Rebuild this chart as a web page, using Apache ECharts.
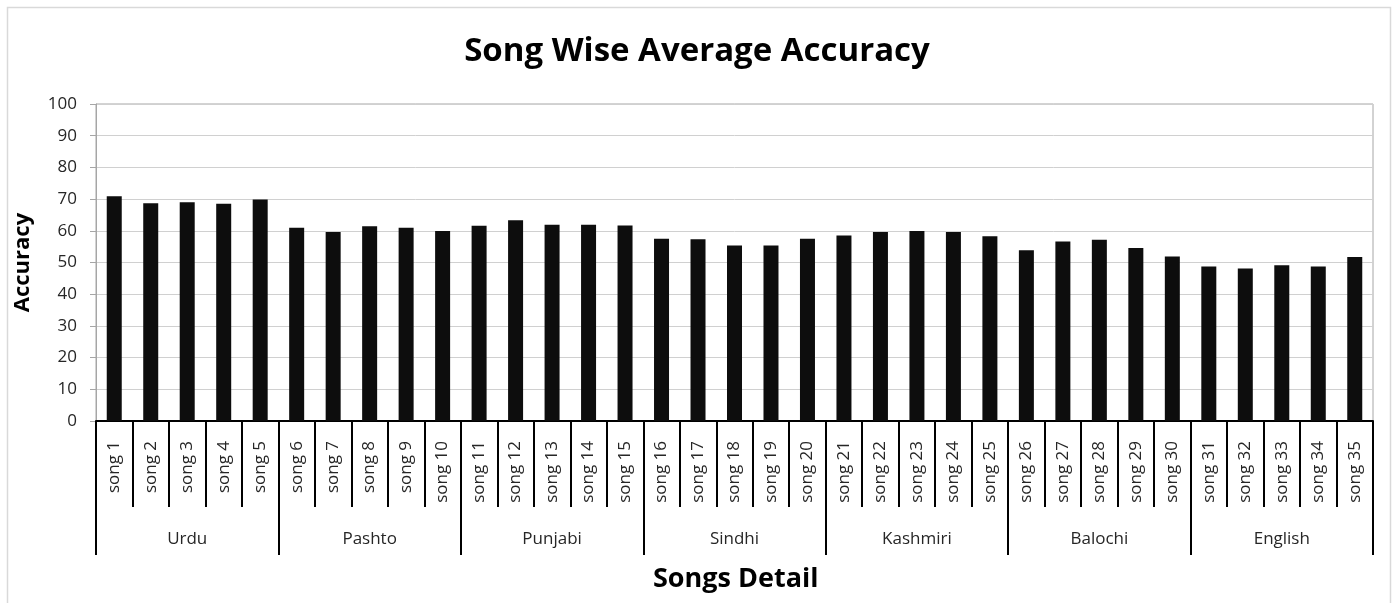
<!DOCTYPE html>
<html>
<head>
<meta charset="utf-8">
<script src="https://cdn.jsdelivr.net/npm/echarts@6/dist/echarts.min.js"></script>
<style>
  html, body { margin: 0; padding: 0; background: #fff; }
  #chart { width: 1394px; height: 603px; }
</style>
</head>
<body>
<div id="chart"></div>
<script>
// song names along the x axis
const songs = [];
for (let i = 1; i <= 35; i++) songs.push("song " + i);

// language groups (5 songs each)
const groups = ["Urdu", "Pashto", "Punjabi", "Sindhi", "Kashmiri", "Balochi", "English"];

// average accuracy per song
const accuracy = [
  70.9, 68.7, 69.0, 68.5, 69.9,
  61.0, 59.6, 61.4, 61.0, 59.9,
  61.6, 63.3, 61.9, 61.9, 61.7,
  57.5, 57.3, 55.4, 55.4, 57.5,
  58.5, 59.6, 59.9, 59.6, 58.3,
  53.9, 56.6, 57.2, 54.6, 51.9,
  48.7, 48.1, 49.1, 48.7, 51.7
];

const yTicks = { min: 0, max: 100, interval: 10 };

const font = "'Open Sans', 'Noto Sans', sans-serif";

var myChart = echarts.init(document.getElementById("chart"));

myChart.setOption({
  animation: false,
  textStyle: { fontFamily: font },
  title: [
    {
      text: "Song Wise Average Accuracy",
      left: "center",
      top: 30,
      textStyle: { fontSize: 33, fontWeight: "bold", color: "#000", fontFamily: font }
    },
    {
      text: "Songs Detail",
      left: 648,
      top: 561,
      textStyle: { fontSize: 27, fontWeight: "bold", color: "#000", fontFamily: font }
    }
  ],
  graphic: [
    {
      type: "rect",
      shape: { x: 7.5, y: 7.5, width: 1383, height: 620 },
      style: { fill: null, stroke: "#d9d9d9", lineWidth: 1.5 },
      silent: true
    }
  ],
  grid: {
    left: 96,
    right: 21,
    top: 104,
    bottom: 182,
    show: true,
    borderColor: "#a6a6a6",
    borderWidth: 1
  },
  xAxis: [
    {
      type: "category",
      data: songs,
      position: "bottom",
      axisLine: { lineStyle: { color: "#000", width: 2 } },
      axisTick: { show: true, interval: 0, length: 86, lineStyle: { color: "#000", width: 2 } },
      axisLabel: {
        interval: 0,
        rotate: 90,
        margin: 20,
        fontSize: 17,
        color: "#262626",
        fontFamily: font
      },
      splitLine: { show: false }
    },
    {
      type: "category",
      data: groups,
      position: "bottom",
      axisLine: { show: false },
      axisTick: { show: true, interval: 0, length: 134, lineStyle: { color: "#000", width: 2 } },
      axisLabel: {
        interval: 0,
        margin: 110,
        fontSize: 17,
        color: "#262626",
        fontFamily: font
      },
      splitLine: { show: false }
    }
  ],
  yAxis: {
    type: "value",
    min: yTicks.min,
    max: yTicks.max,
    interval: yTicks.interval,
    name: "Accuracy",
    nameLocation: "middle",
    nameRotate: 90,
    nameGap: 62,
    nameTextStyle: { fontSize: 22, fontWeight: "bold", color: "#000", fontFamily: font },
    axisLine: { show: true, lineStyle: { color: "#a6a6a6" } },
    axisTick: { show: true, length: 6, lineStyle: { color: "#a6a6a6" } },
    axisLabel: { fontSize: 17, color: "#262626", margin: 19, fontFamily: font },
    splitLine: { lineStyle: { color: "#d0d0d0", width: 1 } }
  },
  series: [
    {
      name: "Accuracy",
      type: "bar",
      xAxisIndex: 0,
      data: accuracy,
      barWidth: 15,
      itemStyle: { color: "#0d0d0d" }
    }
  ]
});
</script>
</body>
</html>
